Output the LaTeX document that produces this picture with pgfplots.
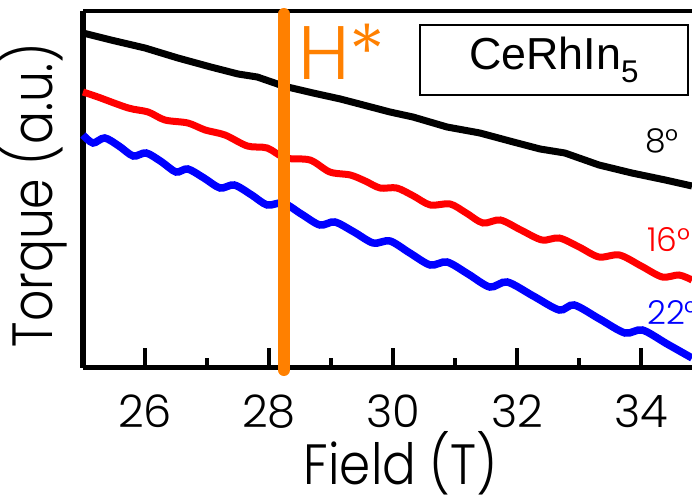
\documentclass[border=0pt]{standalone}
\usepackage{pgfplots}
\pgfplotsset{compat=1.18}
\usepackage{graphicx}
\usepackage{fontspec}
\setmainfont{Poppins}[UprightFont=* Light]
\newfontfamily\arialf{Liberation Sans}
\definecolor{hstar}{RGB}{255,128,0}

\begin{document}
\begin{tikzpicture}
\useasboundingbox (0,0) rectangle (692bp,495bp);
\clip (0,0) rectangle (692bp,495bp);
\begin{axis}[
  at={(83bp,127bp)}, anchor=south west,
  scale only axis, width=609bp, height=357bp,
  xmin=25, xmax=34.82, ymin=0, ymax=357,
  axis x line*=bottom, axis y line*=left,
  axis line style={line width=5bp, black},
  clip=false,
  xtick={26,28,30,32,34},
  minor x tick num=1,
  ytick=\empty,
  tick align=inside,
  major tick length=20bp, minor tick length=10bp,
  tick style={line width=4bp, black},
  /pgf/number format/assume math mode=true,
  xticklabel style={font=\fontsize{45}{45}\selectfont, inner sep=0pt, yshift=-27bp},
  xlabel={\scalebox{0.88}[1]{Field (T)}},
  ylabel={\scalebox{0.86}[1]{Torque (a.u.)}},
  every axis x label/.style={at={(rel axis cs:0.522,-0.3277)}, anchor=base, font=\fontsize{57}{57}\selectfont},
  every axis y label/.style={at={(rel axis cs:-0.0493,0.4846)}, rotate=90, anchor=base, font=\fontsize{57}{57}\selectfont},
]
\draw[line width=4.5bp] (rel axis cs:0,1) -- (rel axis cs:1,1);

% 8 deg
\addplot[black, line width=7bp] coordinates {
 (25.00,335)(25.45,328)(26.00,320)(26.53,310)(27.06,301)(27.50,294)(27.81,291)
 (28.23,282)(28.71,275)(29.15,269)(29.52,263)(29.95,256)(30.32,251)(30.87,241)
 (31.40,235)(31.94,226)(32.37,219)(32.77,215)(33.32,203)(33.85,195)(34.39,188)(34.82,182)
};
% 16 deg
\addplot[red, line width=7bp, smooth] coordinates {
 (25.00,276)(25.24,271)(25.73,260)(26.05,256)(26.32,248)(26.69,245)(26.97,238)
 (27.29,233)(27.65,222)(27.97,220)(28.26,210)(28.66,208)(28.98,196)(29.31,193)
 (29.55,187)(29.79,180)(30.06,180)(30.33,172)(30.60,163)(30.92,164)(31.18,155)
 (31.45,145)(31.73,148)(32.06,138)(32.40,128)(32.68,130)(33.00,121)(33.32,111)
 (33.65,113)(34.00,102)(34.34,91)(34.61,93)(34.82,88)
};
% 22 deg
\addplot[blue, line width=7.5bp, smooth] coordinates {
 (25.00,233)(25.16,225)(25.35,230)(25.58,222)(25.81,212)(26.02,215)(26.27,206)
 (26.50,196)(26.69,199)(26.95,190)(27.21,180)(27.44,183)(27.72,173)(27.97,163)
 (28.23,165)(28.52,154)(28.82,143)(29.06,146)(29.37,136)(29.68,125)(29.95,127)
 (30.27,115)(30.60,103)(30.87,106)(31.21,94)(31.56,81)(31.84,86)(32.26,72)
 (32.68,58)(32.92,63)(33.33,49)(33.74,35)(34.02,38)(34.42,24)(34.82,10)
};
% H*
\addplot[hstar, line width=12bp, line cap=round] coordinates {(28.24,-2)(28.24,354)};
\end{axis}

\node[hstar, anchor=base west, inner sep=0pt, font=\fontsize{76}{76}\selectfont] at (298bp,415bp) {H*};
\draw[line width=1.5bp] (420bp,470bp) rectangle (688bp,400bp);
\node[anchor=center, inner sep=0pt, font=\arialf\fontsize{45}{45}\selectfont] at (554bp,435bp) {CeRhIn\textsubscript{5}};
\node[black, anchor=base west, inner sep=0pt, font=\fontsize{33}{33}\selectfont] at (645bp,342bp) {8°};
\node[red, anchor=base west, inner sep=0pt, font=\fontsize{33}{33}\selectfont] at (647bp,243bp) {16°};
\node[blue, anchor=base west, inner sep=0pt, font=\fontsize{33}{33}\selectfont] at (647bp,170bp) {22°};
\end{tikzpicture}
\end{document}
